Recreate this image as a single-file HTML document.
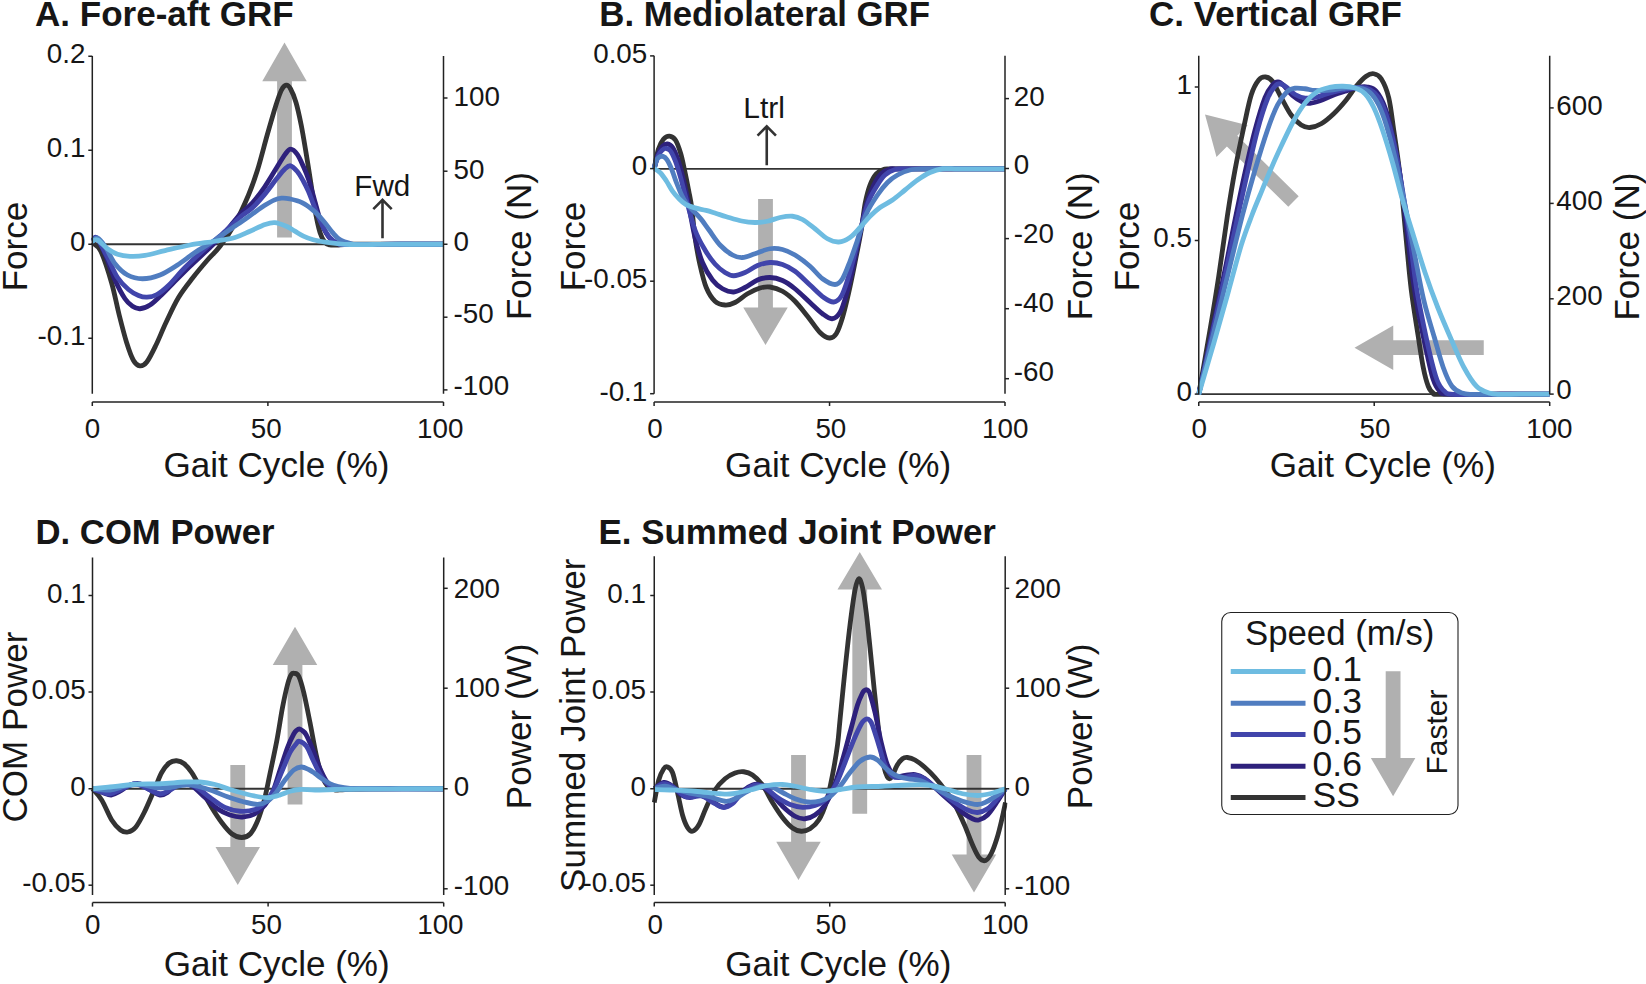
<!DOCTYPE html>
<html lang="en"><head><meta charset="utf-8"><title>Gait figure</title>
<style>
html,body{margin:0;padding:0;background:#fff;}
svg{display:block;}
text{font-family:"Liberation Sans",Arial,Helvetica,sans-serif;fill:#161616;}
</style></head><body>
<svg width="1646" height="984" viewBox="0 0 1646 984">
<rect width="1646" height="984" fill="#fff"/>
<text x="35.1" y="25.9" font-size="35" text-anchor="start" font-weight="bold">A. Fore-aft GRF</text>
<polygon fill="#b0b0b0" points="277.1,237.5 291.9,237.5 291.9,81.25 306.75,81.25 284.5,42.5 262.25,81.25 277.1,81.25"/>
<line x1="92.3" y1="244.25" x2="443.5" y2="244.25" stroke="#333" stroke-width="1.8"/>
<clipPath id="cpA"><rect x="90.1" y="46" width="355.6" height="357.75"/></clipPath>
<g clip-path="url(#cpA)" fill="none" stroke-width="4.8" stroke-linejoin="round" stroke-linecap="butt">
<path d="M92.3 242.5C93.72 243.96 97.6 244.58 100.8 251.25C104 257.92 108.43 271.88 111.5 282.5C114.57 293.12 116.68 305 119.2 315C121.72 325 124.22 334.92 126.6 342.5C128.98 350.08 131.3 356.62 133.5 360.5C135.7 364.38 137.58 365.55 139.8 365.8C142.02 366.05 144.1 365.47 146.8 362C149.5 358.53 152.8 351.58 156 345C159.2 338.42 162.25 330.42 166 322.5C169.75 314.58 174 305 178.5 297.5C183 290 188.17 283.75 193 277.5C197.83 271.25 203 265.21 207.5 260C212 254.79 215.42 252.33 220 246.25C224.58 240.17 230.25 232.04 235 223.5C239.75 214.96 244.75 203.92 248.5 195C252.25 186.08 254.38 180 257.5 170C260.62 160 264.12 145.83 267.2 135C270.28 124.17 273.62 112.5 276 105C278.38 97.5 279.79 93.3 281.5 90C283.21 86.7 284.75 85.41 286.25 85.2C287.75 84.99 288.88 85.87 290.5 88.75C292.12 91.63 294.22 96.46 296 102.5C297.78 108.54 299.53 116.67 301.2 125C302.87 133.33 304.4 142.92 306 152.5C307.6 162.08 309.3 172.92 310.8 182.5C312.3 192.08 313.47 201.67 315 210C316.53 218.33 318.33 227.08 320 232.5C321.67 237.92 323.33 240.42 325 242.5C326.67 244.58 327.92 244.58 330 245C332.08 245.42 334.17 245.12 337.5 245C340.83 244.88 339.58 244.38 350 244.25C360.42 244.12 384.42 244.25 400 244.25C415.58 244.25 436.25 244.25 443.5 244.25" stroke="#333333"/>
<path d="M92.3 241.25C93.08 240.79 94.88 236.42 97 238.5C99.12 240.58 102 246.83 105 253.75C108 260.67 111.67 272.5 115 280C118.33 287.5 122.08 294.38 125 298.75C127.92 303.12 130 304.58 132.5 306.25C135 307.92 137.08 308.96 140 308.75C142.92 308.54 146.67 307.08 150 305C153.33 302.92 156.25 299.79 160 296.25C163.75 292.71 167.5 288.75 172.5 283.75C177.5 278.75 183.75 272.29 190 266.25C196.25 260.21 204.17 253.12 210 247.5C215.83 241.88 220 238.03 225 232.5C230 226.97 235.47 219.18 240 214.3C244.53 209.42 248.13 207.7 252.2 203.2C256.27 198.7 260.33 193.2 264.4 187.3C268.47 181.4 273.15 173.28 276.6 167.8C280.05 162.32 282.77 157.5 285.1 154.4C287.43 151.3 288.57 149.2 290.6 149.2C292.63 149.2 295.17 151.5 297.3 154.4C299.43 157.3 301.57 162.53 303.4 166.6C305.23 170.67 306.87 174.73 308.3 178.8C309.73 182.87 310.82 186.93 312 191C313.18 195.07 314.27 199.13 315.4 203.2C316.53 207.27 317.5 211.33 318.8 215.4C320.1 219.47 321.5 223.95 323.2 227.6C324.9 231.25 326.87 234.77 329 237.3C331.13 239.83 333.33 241.6 336 242.8C338.67 244 334.33 244.26 345 244.5C355.67 244.74 383.58 244.29 400 244.25C416.42 244.21 436.25 244.25 443.5 244.25" stroke="#2e217c"/>
<path d="M92.3 241.25C93.08 240.71 94.47 235.29 97 238C99.53 240.71 104.08 250.92 107.5 257.5C110.92 264.08 114 272.17 117.5 277.5C121 282.83 125 286.5 128.5 289.5C132 292.5 135.42 294.22 138.5 295.5C141.58 296.78 143.92 297.37 147 297.2C150.08 297.03 153.33 296.53 157 294.5C160.67 292.47 164.33 289.5 169 285C173.67 280.5 179 273.54 185 267.5C191 261.46 198.75 254.38 205 248.75C211.25 243.12 216.67 239.01 222.5 233.75C228.33 228.49 235.05 221.49 240 217.2C244.95 212.91 248.13 211.77 252.2 208C256.27 204.23 260.33 199.47 264.4 194.6C268.47 189.73 273.15 183.1 276.6 178.8C280.05 174.5 282.77 170.97 285.1 168.8C287.43 166.63 288.57 165.35 290.6 165.8C292.63 166.25 295.17 168.93 297.3 171.5C299.43 174.07 301.57 177.95 303.4 181.2C305.23 184.45 306.7 187.33 308.3 191C309.9 194.67 311.42 199.13 313 203.2C314.58 207.27 316.07 211.33 317.8 215.4C319.53 219.47 321.43 223.95 323.4 227.6C325.37 231.25 327.33 234.77 329.6 237.3C331.87 239.83 334.27 241.6 337 242.8C339.73 244 335.5 244.26 346 244.5C356.5 244.74 383.75 244.29 400 244.25C416.25 244.21 436.25 244.25 443.5 244.25" stroke="#4145ab"/>
<path d="M92.3 241.25C93.17 240.71 95.38 237.17 97.5 238C99.62 238.83 102.08 241.96 105 246.25C107.92 250.54 111.25 258.96 115 263.75C118.75 268.54 122.92 272.5 127.5 275C132.08 277.5 137.08 278.75 142.5 278.75C147.92 278.75 154.17 277.29 160 275C165.83 272.71 171.67 268.75 177.5 265C183.33 261.25 188.75 256.67 195 252.5C201.25 248.33 208.33 244.42 215 240C221.67 235.58 230.83 228.88 235 226C239.17 223.12 237.13 224.68 240 222.7C242.87 220.72 248.13 216.95 252.2 214.1C256.27 211.25 260.75 207.93 264.4 205.6C268.05 203.27 271.25 201.33 274.1 200.1C276.95 198.87 278.88 198.4 281.5 198.2C284.12 198 286.38 198.17 289.8 198.9C293.22 199.63 297.95 200.57 302 202.6C306.05 204.63 310.45 207.95 314.1 211.1C317.75 214.25 320.85 217.95 323.9 221.5C326.95 225.05 329.75 229.38 332.4 232.4C335.05 235.42 336.75 237.73 339.8 239.6C342.85 241.47 347.33 242.78 350.7 243.6C354.07 244.42 351.78 244.39 360 244.5C368.22 244.61 386.08 244.29 400 244.25C413.92 244.21 436.25 244.25 443.5 244.25" stroke="#507dc0"/>
<path d="M92.3 241.25C93.17 241.04 94.97 238.75 97.5 240C100.03 241.25 104.17 246.38 107.5 248.75C110.83 251.12 113.75 252.94 117.5 254.2C121.25 255.46 125.42 256.1 130 256.3C134.58 256.5 139.17 256.35 145 255.4C150.83 254.45 157.5 252.33 165 250.6C172.5 248.87 181.67 246.56 190 245C198.33 243.44 207.5 242.5 215 241.25C222.5 240 229.17 239.17 235 237.5C240.83 235.83 245 233.42 250 231.25C255 229.08 260.87 225.94 265 224.5C269.13 223.06 271.25 222.3 274.8 222.6C278.35 222.9 282.95 224.87 286.3 226.3C289.65 227.73 292.05 229.57 294.9 231.2C297.75 232.83 300.35 234.67 303.4 236.1C306.45 237.53 309.53 238.78 313.2 239.8C316.87 240.82 321.33 241.55 325.4 242.2C329.47 242.85 333.53 243.32 337.6 243.7C341.67 244.08 343.98 244.37 349.8 244.5C355.62 244.63 364.13 244.54 372.5 244.5C380.87 244.46 388.17 244.29 400 244.25C411.83 244.21 436.25 244.25 443.5 244.25" stroke="#6ebce1"/>
</g>
<line x1="92.3" y1="56" x2="92.3" y2="393.75" stroke="#222222" stroke-width="1.5"/>
<line x1="88.3" y1="56.25" x2="92.3" y2="56.25" stroke="#222222" stroke-width="1.5"/>
<text x="85.5" y="63.05" font-size="27.8" text-anchor="end">0.2</text>
<line x1="88.3" y1="150.25" x2="92.3" y2="150.25" stroke="#222222" stroke-width="1.5"/>
<text x="85.5" y="157.05" font-size="27.8" text-anchor="end">0.1</text>
<line x1="88.3" y1="244.25" x2="92.3" y2="244.25" stroke="#222222" stroke-width="1.5"/>
<text x="85.5" y="251.05" font-size="27.8" text-anchor="end">0</text>
<line x1="88.3" y1="338.25" x2="92.3" y2="338.25" stroke="#222222" stroke-width="1.5"/>
<text x="85.5" y="345.05" font-size="27.8" text-anchor="end">-0.1</text>
<line x1="443.5" y1="56" x2="443.5" y2="393.75" stroke="#222222" stroke-width="1.5"/>
<line x1="443.5" y1="98" x2="447.5" y2="98" stroke="#222222" stroke-width="1.5"/>
<text x="453.5" y="106.4" font-size="27.8" text-anchor="start">100</text>
<line x1="443.5" y1="171.2" x2="447.5" y2="171.2" stroke="#222222" stroke-width="1.5"/>
<text x="453.5" y="178.6" font-size="27.8" text-anchor="start">50</text>
<line x1="443.5" y1="244.25" x2="447.5" y2="244.25" stroke="#222222" stroke-width="1.5"/>
<text x="453.5" y="250.55" font-size="27.8" text-anchor="start">0</text>
<line x1="443.5" y1="317.2" x2="447.5" y2="317.2" stroke="#222222" stroke-width="1.5"/>
<text x="453.5" y="322.5" font-size="27.8" text-anchor="start">-50</text>
<line x1="443.5" y1="389.9" x2="447.5" y2="389.9" stroke="#222222" stroke-width="1.5"/>
<text x="453.5" y="394.6" font-size="27.8" text-anchor="start">-100</text>
<line x1="92.3" y1="402" x2="443.5" y2="402" stroke="#222222" stroke-width="1.5"/>
<line x1="92.3" y1="402" x2="92.3" y2="406" stroke="#222222" stroke-width="1.5"/>
<text x="92.6" y="438.4" font-size="27.8" text-anchor="middle">0</text>
<line x1="267.9" y1="402" x2="267.9" y2="406" stroke="#222222" stroke-width="1.5"/>
<text x="266.2" y="438.4" font-size="27.8" text-anchor="middle">50</text>
<line x1="443.5" y1="402" x2="443.5" y2="406" stroke="#222222" stroke-width="1.5"/>
<text x="440.2" y="438.4" font-size="27.8" text-anchor="middle">100</text>
<text x="276.5" y="477.3" font-size="35.1" text-anchor="middle">Gait Cycle (%)</text>
<text x="26.7" y="246.5" font-size="35.1" text-anchor="middle" transform="rotate(-90 26.7 246.5)">Force</text>
<text x="531" y="246" font-size="35.1" text-anchor="middle" transform="rotate(-90 531 246)">Force (N)</text>
<text x="382.3" y="195.6" font-size="29.6" text-anchor="middle">Fwd</text>
<path d="M382.5 238.2L382.5 200.85M373.3 209.05L382.5 199.85L391.7 209.05" fill="none" stroke="#333" stroke-width="2.6" stroke-linejoin="miter"/>
<text x="599.3" y="25.9" font-size="34.8" text-anchor="start" font-weight="bold">B. Mediolateral GRF</text>
<polygon fill="#b0b0b0" points="758.1,199 772.9,199 772.9,307.5 787.75,307.5 765.5,345 743.25,307.5 758.1,307.5"/>
<line x1="654.1" y1="168.9" x2="1005" y2="168.9" stroke="#333" stroke-width="1.8"/>
<clipPath id="cpB"><rect x="651.9" y="45.75" width="355.3" height="358"/></clipPath>
<g clip-path="url(#cpB)" fill="none" stroke-width="4.8" stroke-linejoin="round" stroke-linecap="butt">
<path d="M654.2 168.5C654.88 165.33 656.77 154.37 658.3 149.5C659.83 144.63 661.53 141.53 663.4 139.3C665.27 137.07 667.47 135.93 669.5 136.1C671.53 136.27 673.73 137.4 675.6 140.3C677.47 143.2 679.18 148.42 680.7 153.5C682.22 158.58 683.35 164.53 684.7 170.8C686.05 177.07 687.62 184.9 688.8 191.1C689.98 197.3 690.77 200.27 691.8 208C692.83 215.73 693.63 228 695 237.5C696.37 247 698.12 256.67 700 265C701.88 273.33 703.75 281.46 706.25 287.5C708.75 293.54 711.88 298.33 715 301.25C718.12 304.17 721.67 304.79 725 305C728.33 305.21 731.25 304.38 735 302.5C738.75 300.62 743.33 296.17 747.5 293.75C751.67 291.33 756.25 289.12 760 288C763.75 286.88 766.25 286.46 770 287C773.75 287.54 778.33 288.88 782.5 291.25C786.67 293.62 790.83 297.08 795 301.25C799.17 305.42 803.33 311.04 807.5 316.25C811.67 321.46 816.33 328.88 820 332.5C823.67 336.12 826.79 337.79 829.5 338C832.21 338.21 834.08 337.17 836.25 333.75C838.42 330.33 840.42 324.38 842.5 317.5C844.58 310.62 846.67 301.67 848.75 292.5C850.83 283.33 852.92 272.92 855 262.5C857.08 252.08 859.55 239.92 861.25 230C862.95 220.08 863.74 210.5 865.2 203C866.66 195.5 868.15 189.88 870 185C871.85 180.12 873.97 176.37 876.3 173.75C878.63 171.13 880.88 170.11 884 169.3C887.12 168.49 884 168.97 895 168.9C906 168.83 931.67 168.9 950 168.9C968.33 168.9 995.83 168.9 1005 168.9" stroke="#333333"/>
<path d="M654.2 168.5C654.88 166 656.85 157.27 658.3 153.5C659.75 149.73 661.38 147.5 662.9 145.9C664.42 144.3 665.8 143.65 667.4 143.9C669 144.15 670.8 144.95 672.5 147.4C674.2 149.85 675.9 153.68 677.6 158.6C679.3 163.52 681 169.95 682.7 176.9C684.4 183.85 685.75 190.2 687.8 200.3C689.85 210.4 692.55 227.13 695 237.5C697.45 247.87 699.58 255.42 702.5 262.5C705.42 269.58 709.17 275.62 712.5 280C715.83 284.38 718.96 286.75 722.5 288.75C726.04 290.75 730 292.21 733.75 292C737.5 291.79 741.04 289.5 745 287.5C748.96 285.5 753.33 281.67 757.5 280C761.67 278.33 765.83 277.42 770 277.5C774.17 277.58 778.33 278.62 782.5 280.5C786.67 282.38 790.42 285.08 795 288.75C799.58 292.42 805.42 298.33 810 302.5C814.58 306.67 818.83 311.04 822.5 313.75C826.17 316.46 829.08 318.96 832 318.75C834.92 318.54 837.62 316.46 840 312.5C842.38 308.54 844.17 302.08 846.25 295C848.33 287.92 850.42 279.17 852.5 270C854.58 260.83 856.46 250.83 858.75 240C861.04 229.17 863.75 214.17 866.25 205C868.75 195.83 871.25 190.21 873.75 185C876.25 179.79 878.54 176.42 881.25 173.75C883.96 171.08 886.88 169.81 890 169C893.12 168.19 890 168.92 900 168.9C910 168.88 932.5 168.9 950 168.9C967.5 168.9 995.83 168.9 1005 168.9" stroke="#2e217c"/>
<path d="M654.2 168.5C654.88 166.35 656.93 158.68 658.3 155.6C659.67 152.52 661.05 151.18 662.4 150C663.75 148.82 665.05 148.33 666.4 148.5C667.75 148.67 668.97 148.8 670.5 151C672.03 153.2 673.9 157.22 675.6 161.7C677.3 166.18 679.02 171.98 680.7 177.9C682.38 183.82 683.32 188.52 685.7 197.2C688.08 205.88 691.78 221.2 695 230C698.22 238.8 701.67 244.33 705 250C708.33 255.67 711.67 260.25 715 264C718.33 267.75 721.88 270.54 725 272.5C728.12 274.46 730.42 275.75 733.75 275.75C737.08 275.75 741.04 274.21 745 272.5C748.96 270.79 753.33 267.17 757.5 265.5C761.67 263.83 765.83 262.67 770 262.5C774.17 262.33 778.33 263.04 782.5 264.5C786.67 265.96 790.42 267.83 795 271.25C799.58 274.67 805.21 280.62 810 285C814.79 289.38 819.79 294.67 823.75 297.5C827.71 300.33 830.83 302.21 833.75 302C836.67 301.79 838.96 299.92 841.25 296.25C843.54 292.58 845.42 286.46 847.5 280C849.58 273.54 851.67 265.42 853.75 257.5C855.83 249.58 857.62 241.58 860 232.5C862.38 223.42 865.08 210.92 868 203C870.92 195.08 874.67 189.67 877.5 185C880.33 180.33 882.08 177.58 885 175C887.92 172.42 891.25 170.52 895 169.5C898.75 168.48 898.33 169 907.5 168.9C916.67 168.8 933.75 168.9 950 168.9C966.25 168.9 995.83 168.9 1005 168.9" stroke="#4145ab"/>
<path d="M654.2 168.5C654.55 167.2 655.45 162.6 656.3 160.7C657.15 158.8 658.2 157.82 659.3 157.1C660.4 156.38 661.63 155.98 662.9 156.4C664.17 156.82 665.47 157.53 666.9 159.6C668.33 161.67 669.88 164.9 671.5 168.8C673.12 172.7 674.9 178.6 676.6 183C678.3 187.4 680.18 191.98 681.7 195.2C683.22 198.42 684.18 200.1 685.7 202.3C687.22 204.5 688.93 206.37 690.8 208.4C692.67 210.43 695.2 212.73 696.9 214.5C698.6 216.27 698.98 216.42 701 219C703.02 221.58 705.83 225.67 709 230C712.17 234.33 716.08 240.83 720 245C723.92 249.17 728.75 252.92 732.5 255C736.25 257.08 738.75 257.71 742.5 257.5C746.25 257.29 750.42 255.21 755 253.75C759.58 252.29 765.42 249.46 770 248.75C774.58 248.04 778.33 248.46 782.5 249.5C786.67 250.54 790.42 252.21 795 255C799.58 257.79 805.42 262.29 810 266.25C814.58 270.21 818.33 275.71 822.5 278.75C826.67 281.79 831.67 284.5 835 284.5C838.33 284.5 840 282.62 842.5 278.75C845 274.88 847.5 267.71 850 261.25C852.5 254.79 854.79 247.88 857.5 240C860.21 232.12 862.92 221.5 866.25 214C869.58 206.5 873.96 200.25 877.5 195C881.04 189.75 884.17 185.83 887.5 182.5C890.83 179.17 893.75 177.08 897.5 175C901.25 172.92 905.42 171.02 910 170C914.58 168.98 916.67 169.08 925 168.9C933.33 168.72 946.67 168.9 960 168.9C973.33 168.9 997.5 168.9 1005 168.9" stroke="#507dc0"/>
<path d="M654.2 168.5C655.22 169.22 658.27 170.72 660.3 172.8C662.33 174.88 664.37 177.95 666.4 181C668.43 184.05 670.47 188.22 672.5 191.1C674.53 193.98 676.4 196.08 678.6 198.3C680.8 200.52 682.98 202.8 685.7 204.4C688.42 206 691.5 206.9 694.9 207.9C698.3 208.9 702.55 209.47 706.1 210.4C709.65 211.33 712.82 212.45 716.2 213.5C719.58 214.55 722.17 215.45 726.4 216.7C730.63 217.95 736.83 220.03 741.6 221C746.37 221.97 750.68 222.46 755 222.5C759.32 222.54 763.33 222.08 767.5 221.25C771.67 220.42 775.83 218.33 780 217.5C784.17 216.67 788.75 215.92 792.5 216.25C796.25 216.58 798.75 217.42 802.5 219.5C806.25 221.58 810.83 225.54 815 228.75C819.17 231.96 823.54 236.54 827.5 238.75C831.46 240.96 835 242.21 838.75 242C842.5 241.79 846.46 239.92 850 237.5C853.54 235.08 856.67 231.04 860 227.5C863.33 223.96 866.67 219.58 870 216.25C873.33 212.92 876.25 210.21 880 207.5C883.75 204.79 888.33 202.92 892.5 200C896.67 197.08 900.83 193.33 905 190C909.17 186.67 913.33 182.92 917.5 180C921.67 177.08 925.83 174.38 930 172.5C934.17 170.62 937.92 169.35 942.5 168.75C947.08 168.15 951.25 168.88 957.5 168.9C963.75 168.93 972.08 168.9 980 168.9C987.92 168.9 1000.83 168.9 1005 168.9" stroke="#6ebce1"/>
</g>
<line x1="654.1" y1="55.75" x2="654.1" y2="393.75" stroke="#222222" stroke-width="1.5"/>
<line x1="650.1" y1="55.9" x2="654.1" y2="55.9" stroke="#222222" stroke-width="1.5"/>
<text x="647.3" y="62.7" font-size="27.8" text-anchor="end">0.05</text>
<line x1="650.1" y1="168.6" x2="654.1" y2="168.6" stroke="#222222" stroke-width="1.5"/>
<text x="647.3" y="175.4" font-size="27.8" text-anchor="end">0</text>
<line x1="650.1" y1="281.2" x2="654.1" y2="281.2" stroke="#222222" stroke-width="1.5"/>
<text x="647.3" y="288" font-size="27.8" text-anchor="end">-0.05</text>
<line x1="650.1" y1="393.7" x2="654.1" y2="393.7" stroke="#222222" stroke-width="1.5"/>
<text x="647.3" y="400.5" font-size="27.8" text-anchor="end">-0.1</text>
<line x1="1005" y1="55.75" x2="1005" y2="393.75" stroke="#222222" stroke-width="1.5"/>
<line x1="1005" y1="98.6" x2="1009" y2="98.6" stroke="#222222" stroke-width="1.5"/>
<text x="1013.8" y="105.7" font-size="27.8" text-anchor="start">20</text>
<line x1="1005" y1="168.5" x2="1009" y2="168.5" stroke="#222222" stroke-width="1.5"/>
<text x="1013.8" y="174.4" font-size="27.8" text-anchor="start">0</text>
<line x1="1005" y1="238.6" x2="1009" y2="238.6" stroke="#222222" stroke-width="1.5"/>
<text x="1013.8" y="243.2" font-size="27.8" text-anchor="start">-20</text>
<line x1="1005" y1="308.7" x2="1009" y2="308.7" stroke="#222222" stroke-width="1.5"/>
<text x="1013.8" y="312.3" font-size="27.8" text-anchor="start">-40</text>
<line x1="1005" y1="378.7" x2="1009" y2="378.7" stroke="#222222" stroke-width="1.5"/>
<text x="1013.8" y="381.4" font-size="27.8" text-anchor="start">-60</text>
<line x1="654.1" y1="402" x2="1005" y2="402" stroke="#222222" stroke-width="1.5"/>
<line x1="654.1" y1="402" x2="654.1" y2="406" stroke="#222222" stroke-width="1.5"/>
<text x="655.1" y="438.4" font-size="27.8" text-anchor="middle">0</text>
<line x1="829.55" y1="402" x2="829.55" y2="406" stroke="#222222" stroke-width="1.5"/>
<text x="830.85" y="438.4" font-size="27.8" text-anchor="middle">50</text>
<line x1="1005" y1="402" x2="1005" y2="406" stroke="#222222" stroke-width="1.5"/>
<text x="1005.2" y="438.4" font-size="27.8" text-anchor="middle">100</text>
<text x="838.15" y="477.3" font-size="35.1" text-anchor="middle">Gait Cycle (%)</text>
<text x="585" y="246.5" font-size="35.1" text-anchor="middle" transform="rotate(-90 585 246.5)">Force</text>
<text x="1091.8" y="246.3" font-size="35.1" text-anchor="middle" transform="rotate(-90 1091.8 246.3)">Force (N)</text>
<text x="764.2" y="117.6" font-size="30" text-anchor="middle">Ltrl</text>
<path d="M766.75 165.2L766.75 127.45M757.55 135.65L766.75 126.45L775.95 135.65" fill="none" stroke="#333" stroke-width="2.6" stroke-linejoin="miter"/>
<text x="1149.1" y="25.9" font-size="35" text-anchor="start" font-weight="bold">C. Vertical GRF</text>
<polygon fill="#b0b0b0" points="1205,114.5 1216.5,157.01 1226.91,146.42 1288.31,206.78 1298.69,196.22 1237.29,135.86 1247.7,125.27"/>
<polygon fill="#b0b0b0" points="1483.75,340.3 1483.75,355.1 1393.25,355.1 1393.25,369.95 1354.5,347.7 1393.25,325.45 1393.25,340.3"/>
<line x1="1198.75" y1="394.2" x2="1549.7" y2="394.2" stroke="#333" stroke-width="1.8"/>
<clipPath id="cpC"><rect x="1196.55" y="45.75" width="355.35" height="358.45"/></clipPath>
<g clip-path="url(#cpC)" fill="none" stroke-width="4.8" stroke-linejoin="round" stroke-linecap="butt">
<path d="M1198.75 394.2C1200.62 383.5 1206.67 349.7 1210 330C1213.33 310.3 1215.83 295.17 1218.75 276C1221.67 256.83 1224.79 232.67 1227.5 215C1230.21 197.33 1232.3 184.58 1235 170C1237.7 155.42 1241 140 1243.7 127.5C1246.4 115 1248.7 102.92 1251.2 95C1253.7 87.08 1256.28 83 1258.7 80C1261.12 77 1263.41 76.79 1265.7 77C1267.99 77.21 1269.87 77.83 1272.45 81.25C1275.03 84.67 1278.08 91.88 1281.2 97.5C1284.33 103.12 1287.87 110.42 1291.2 115C1294.53 119.58 1298.08 122.92 1301.2 125C1304.33 127.08 1306.62 127.71 1309.95 127.5C1313.28 127.29 1317.24 126.04 1321.2 123.75C1325.16 121.46 1329.53 117.71 1333.7 113.75C1337.87 109.79 1342.45 104.58 1346.2 100C1349.95 95.42 1352.87 90.21 1356.2 86.25C1359.53 82.29 1363.28 78.33 1366.2 76.25C1369.12 74.17 1371.2 73.33 1373.7 73.75C1376.2 74.17 1378.7 74.79 1381.2 78.75C1383.7 82.71 1386.61 88.96 1388.7 97.5C1390.79 106.04 1391.87 117.08 1393.75 130C1395.63 142.92 1397.92 156.67 1400 175C1402.08 193.33 1404.38 220.83 1406.25 240C1408.12 259.17 1409.29 274.17 1411.25 290C1413.21 305.83 1416 322.08 1418 335C1420 347.92 1421.54 358.96 1423.25 367.5C1424.96 376.04 1426.58 382 1428.25 386.25C1429.92 390.5 1431.17 391.64 1433.25 393C1435.33 394.36 1429.62 394.2 1440.75 394.4C1451.88 394.6 1481.88 394.23 1500 394.2C1518.12 394.17 1541.25 394.2 1549.5 394.2" stroke="#333333"/>
<path d="M1198.75 394.2C1202.92 374.5 1217.71 305.03 1223.75 276C1229.79 246.97 1231.46 237.25 1235 220C1238.54 202.75 1241.67 187.5 1245 172.5C1248.33 157.5 1251.67 142.5 1255 130C1258.33 117.5 1262.08 105 1265 97.5C1267.92 90 1270.33 87.58 1272.5 85C1274.67 82.42 1276.12 81.92 1278 82C1279.88 82.08 1281.33 83.25 1283.75 85.5C1286.17 87.75 1289.38 92.75 1292.5 95.5C1295.62 98.25 1299.58 100.71 1302.5 102C1305.42 103.29 1307.08 103.46 1310 103.25C1312.92 103.04 1316.25 102.04 1320 100.75C1323.75 99.46 1328.33 97.08 1332.5 95.5C1336.67 93.92 1340.83 92.58 1345 91.25C1349.17 89.92 1353.75 88.21 1357.5 87.5C1361.25 86.79 1364.38 86.38 1367.5 87C1370.62 87.62 1373.33 87.83 1376.25 91.25C1379.17 94.67 1382.29 100.21 1385 107.5C1387.71 114.79 1390 123.75 1392.5 135C1395 146.25 1397.5 158.33 1400 175C1402.5 191.67 1405.33 217.5 1407.5 235C1409.67 252.5 1411.18 267.08 1413 280C1414.82 292.92 1416.15 300.42 1418.44 312.5C1420.73 324.58 1424.32 341.46 1426.75 352.5C1429.18 363.54 1430.92 372.42 1433 378.75C1435.08 385.08 1436.75 387.93 1439.25 390.5C1441.75 393.07 1437.88 393.58 1448 394.2C1458.12 394.82 1483.08 394.2 1500 394.2C1516.92 394.2 1541.25 394.2 1549.5 394.2" stroke="#2e217c"/>
<path d="M1198.75 394.2C1203.12 374.5 1218.54 305.45 1225 276C1231.46 246.55 1233.75 234.75 1237.5 217.5C1241.25 200.25 1244.17 187.08 1247.5 172.5C1250.83 157.92 1254.17 142.29 1257.5 130C1260.83 117.71 1264.58 106.04 1267.5 98.75C1270.42 91.46 1272.92 88.75 1275 86.25C1277.08 83.75 1278.12 83.62 1280 83.75C1281.88 83.88 1283.75 85.21 1286.25 87C1288.75 88.79 1291.88 92.67 1295 94.5C1298.12 96.33 1301.67 97.5 1305 98C1308.33 98.5 1311.25 98.21 1315 97.5C1318.75 96.79 1322.5 95.08 1327.5 93.75C1332.5 92.42 1339.58 90.54 1345 89.5C1350.42 88.46 1355.83 87.5 1360 87.5C1364.17 87.5 1366.88 87.83 1370 89.5C1373.12 91.17 1376.04 93.25 1378.75 97.5C1381.46 101.75 1383.75 107.5 1386.25 115C1388.75 122.5 1391.25 131.25 1393.75 142.5C1396.25 153.75 1398.54 166.25 1401.25 182.5C1403.96 198.75 1407.54 222.92 1410 240C1412.46 257.08 1414.25 273.33 1416 285C1417.75 296.67 1418.25 298.75 1420.5 310C1422.75 321.25 1426.75 340.83 1429.5 352.5C1432.25 364.17 1434.5 373.54 1437 380C1439.5 386.46 1441.58 388.85 1444.5 391.25C1447.42 393.65 1445.25 393.91 1454.5 394.4C1463.75 394.89 1484.17 394.23 1500 394.2C1515.83 394.17 1541.25 394.2 1549.5 394.2" stroke="#4145ab"/>
<path d="M1198.75 394.2C1203.54 374.5 1220.21 305.87 1227.5 276C1234.79 246.13 1237.92 232.67 1242.5 215C1247.08 197.33 1250.83 184.17 1255 170C1259.17 155.83 1263.75 140.83 1267.5 130C1271.25 119.17 1274.17 111.46 1277.5 105C1280.83 98.54 1284.58 94.04 1287.5 91.25C1290.42 88.46 1292.08 88.67 1295 88.25C1297.92 87.83 1301.67 88.38 1305 88.75C1308.33 89.12 1310.83 90.29 1315 90.5C1319.17 90.71 1325 90.42 1330 90C1335 89.58 1340 88.33 1345 88C1350 87.67 1355.83 87.25 1360 88C1364.17 88.75 1366.88 89.67 1370 92.5C1373.12 95.33 1376.04 99.58 1378.75 105C1381.46 110.42 1383.54 116.25 1386.25 125C1388.96 133.75 1391.88 144.17 1395 157.5C1398.12 170.83 1401.88 189.58 1405 205C1408.12 220.42 1410.62 234.17 1413.75 250C1416.88 265.83 1420.31 285.42 1423.75 300C1427.19 314.58 1431.13 326.25 1434.38 337.5C1437.63 348.75 1440.31 359.38 1443.25 367.5C1446.19 375.62 1448.88 382 1452 386.25C1455.12 390.5 1458.67 391.64 1462 393C1465.33 394.36 1465.67 394.2 1472 394.4C1478.33 394.6 1487.08 394.23 1500 394.2C1512.92 394.17 1541.25 394.2 1549.5 394.2" stroke="#507dc0"/>
<path d="M1198.75 394.2C1201.29 385.58 1209.12 359.37 1214 342.5C1218.88 325.63 1223.45 309.25 1228 293C1232.55 276.75 1237.3 258 1241.3 245C1245.3 232 1248.8 223.5 1252 215C1255.2 206.5 1257.67 200.92 1260.5 194C1263.33 187.08 1266.08 180.33 1269 173.5C1271.92 166.67 1274 161.58 1278 153C1282 144.42 1288.42 130.42 1293 122C1297.58 113.58 1301.42 107.58 1305.5 102.5C1309.58 97.42 1313.5 94.02 1317.5 91.5C1321.5 88.98 1325.25 88.28 1329.5 87.4C1333.75 86.53 1338.75 86.15 1343 86.25C1347.25 86.35 1351.33 86.75 1355 88C1358.67 89.25 1361.88 90.5 1365 93.75C1368.12 97 1370.83 101.46 1373.75 107.5C1376.67 113.54 1379.38 120.83 1382.5 130C1385.62 139.17 1389.17 150.83 1392.5 162.5C1395.83 174.17 1399.17 188.33 1402.5 200C1405.83 211.67 1408.75 220.42 1412.5 232.5C1416.25 244.58 1420.79 260 1425 272.5C1429.21 285 1433.36 296.25 1437.78 307.5C1442.2 318.75 1447.13 330 1451.5 340C1455.87 350 1459.83 359.79 1464 367.5C1468.17 375.21 1472.33 382 1476.5 386.25C1480.67 390.5 1485.08 391.64 1489 393C1492.92 394.36 1494.83 394.2 1500 394.4C1505.17 394.6 1511.75 394.23 1520 394.2C1528.25 394.17 1544.58 394.2 1549.5 394.2" stroke="#6ebce1"/>
</g>
<line x1="1198.75" y1="55.75" x2="1198.75" y2="394.2" stroke="#222222" stroke-width="1.5"/>
<line x1="1194.75" y1="87" x2="1198.75" y2="87" stroke="#222222" stroke-width="1.5"/>
<text x="1191.95" y="93.8" font-size="27.8" text-anchor="end">1</text>
<line x1="1194.75" y1="240.5" x2="1198.75" y2="240.5" stroke="#222222" stroke-width="1.5"/>
<text x="1191.95" y="247.3" font-size="27.8" text-anchor="end">0.5</text>
<line x1="1194.75" y1="394.1" x2="1198.75" y2="394.1" stroke="#222222" stroke-width="1.5"/>
<text x="1191.95" y="400.9" font-size="27.8" text-anchor="end">0</text>
<line x1="1549.7" y1="55.75" x2="1549.7" y2="394.2" stroke="#222222" stroke-width="1.5"/>
<line x1="1549.7" y1="107.9" x2="1553.7" y2="107.9" stroke="#222222" stroke-width="1.5"/>
<text x="1556.3" y="115" font-size="27.8" text-anchor="start">600</text>
<line x1="1549.7" y1="203.4" x2="1553.7" y2="203.4" stroke="#222222" stroke-width="1.5"/>
<text x="1556.3" y="209.9" font-size="27.8" text-anchor="start">400</text>
<line x1="1549.7" y1="298.8" x2="1553.7" y2="298.8" stroke="#222222" stroke-width="1.5"/>
<text x="1556.3" y="304.6" font-size="27.8" text-anchor="start">200</text>
<line x1="1549.7" y1="394.1" x2="1553.7" y2="394.1" stroke="#222222" stroke-width="1.5"/>
<text x="1556.3" y="399.3" font-size="27.8" text-anchor="start">0</text>
<line x1="1198.75" y1="402" x2="1549.7" y2="402" stroke="#222222" stroke-width="1.5"/>
<line x1="1198.75" y1="402" x2="1198.75" y2="406" stroke="#222222" stroke-width="1.5"/>
<text x="1199.25" y="438.4" font-size="27.8" text-anchor="middle">0</text>
<line x1="1374.22" y1="402" x2="1374.22" y2="406" stroke="#222222" stroke-width="1.5"/>
<text x="1375.02" y="438.4" font-size="27.8" text-anchor="middle">50</text>
<line x1="1549.7" y1="402" x2="1549.7" y2="406" stroke="#222222" stroke-width="1.5"/>
<text x="1549.4" y="438.4" font-size="27.8" text-anchor="middle">100</text>
<text x="1382.82" y="477.3" font-size="35.1" text-anchor="middle">Gait Cycle (%)</text>
<text x="1139.2" y="246.5" font-size="35.1" text-anchor="middle" transform="rotate(-90 1139.2 246.5)">Force</text>
<text x="1638.5" y="246.5" font-size="35.1" text-anchor="middle" transform="rotate(-90 1638.5 246.5)">Force (N)</text>
<text x="35.5" y="543.7" font-size="34.7" text-anchor="start" font-weight="bold">D. COM Power</text>
<polygon fill="#b0b0b0" points="287.6,804.5 302.4,804.5 302.4,665 317.25,665 295,626.75 272.75,665 287.6,665"/>
<polygon fill="#b0b0b0" points="230.35,765 245.15,765 245.15,847 260,847 237.75,885 215.5,847 230.35,847"/>
<line x1="92.5" y1="788.75" x2="443.7" y2="788.75" stroke="#333" stroke-width="1.8"/>
<clipPath id="cpD"><rect x="90.3" y="547.5" width="355.6" height="357.5"/></clipPath>
<g clip-path="url(#cpD)" fill="none" stroke-width="4.8" stroke-linejoin="round" stroke-linecap="butt">
<path d="M92.5 788.75C94.03 790.62 98.5 794.79 101.7 800C104.9 805.21 108.58 815 111.7 820C114.83 825 117.74 828 120.45 830C123.16 832 125.45 832.42 127.95 832C130.45 831.58 132.74 830.75 135.45 827.5C138.16 824.25 141.07 818.75 144.2 812.5C147.32 806.25 151.28 796.67 154.2 790C157.12 783.33 159.2 777 161.7 772.5C164.2 768 166.7 764.96 169.2 763C171.7 761.04 174.2 760.62 176.7 760.75C179.2 760.88 181.7 761.79 184.2 763.75C186.7 765.71 188.78 768.12 191.7 772.5C194.62 776.88 198.37 784.17 201.7 790C205.03 795.83 208.37 802.08 211.7 807.5C215.03 812.92 218.37 818.12 221.7 822.5C225.03 826.88 228.37 831.25 231.7 833.75C235.03 836.25 238.57 837.5 241.7 837.5C244.82 837.5 247.74 836.67 250.45 833.75C253.16 830.83 255.64 825.62 257.95 820C260.26 814.38 262.34 807.5 264.3 800C266.26 792.5 267.59 785 269.7 775C271.81 765 274.82 751.25 276.95 740C279.08 728.75 280.7 716.88 282.5 707.5C284.3 698.12 286.29 689.25 287.75 683.75C289.21 678.25 290.12 676.23 291.25 674.5C292.38 672.77 293.25 673.11 294.5 673.4C295.75 673.69 297.21 673.07 298.75 676.25C300.29 679.43 301.88 684.79 303.75 692.5C305.62 700.21 307.92 712.08 310 722.5C312.08 732.92 314.17 745.83 316.25 755C318.33 764.17 320.42 772.08 322.5 777.5C324.58 782.92 326.67 785.42 328.75 787.5C330.83 789.58 332.29 789.67 335 790C337.71 790.33 339.17 789.71 345 789.5C350.83 789.29 353.58 788.88 370 788.75C386.42 788.62 431.25 788.75 443.5 788.75" stroke="#333333"/>
<path d="M92.5 788.75C94.17 789.38 99.38 791.46 102.5 792.5C105.62 793.54 108.33 795.21 111.25 795C114.17 794.79 116.88 792.92 120 791.25C123.12 789.58 126.67 786.25 130 785C133.33 783.75 136.67 782.92 140 783.75C143.33 784.58 146.67 788.12 150 790C153.33 791.88 157.08 794.58 160 795C162.92 795.42 165 794.17 167.5 792.5C170 790.83 172.5 786.67 175 785C177.5 783.33 179.58 782.29 182.5 782.5C185.42 782.71 188.75 783.75 192.5 786.25C196.25 788.75 200.83 793.75 205 797.5C209.17 801.25 213.33 805.83 217.5 808.75C221.67 811.67 225.83 813.62 230 815C234.17 816.38 238.33 817.21 242.5 817C246.67 816.79 251.25 815.75 255 813.75C258.75 811.75 262.08 808.54 265 805C267.92 801.46 270 798.33 272.5 792.5C275 786.67 277.5 777.5 280 770C282.5 762.5 285.21 753.5 287.5 747.5C289.79 741.5 292.17 736.92 293.75 734C295.33 731.08 296.08 730.83 297 730C297.92 729.17 298.5 729 299.25 729C300 729 300.38 729.08 301.5 730C302.62 730.92 304.08 731.17 306 734.5C307.92 737.83 310.75 744.5 313 750C315.25 755.5 317.17 762.17 319.5 767.5C321.83 772.83 324.5 778.7 327 782C329.5 785.3 331.67 786.13 334.5 787.3C337.33 788.47 338.08 788.76 344 789C349.92 789.24 353.42 788.79 370 788.75C386.58 788.71 431.25 788.75 443.5 788.75" stroke="#2e217c"/>
<path d="M92.5 788.75C94.08 789.29 99.08 791.17 102 792C104.92 792.83 107 794.08 110 793.75C113 793.42 115.83 791.67 120 790C124.17 788.33 130.42 783.96 135 783.75C139.58 783.54 143.33 787.08 147.5 788.75C151.67 790.42 156.25 793.54 160 793.75C163.75 793.96 166.25 791.67 170 790C173.75 788.33 178.33 784.38 182.5 783.75C186.67 783.12 190.42 783.96 195 786.25C199.58 788.54 205 793.96 210 797.5C215 801.04 220 805.21 225 807.5C230 809.79 235 810.92 240 811.25C245 811.58 250.83 810.96 255 809.5C259.17 808.04 261.88 805.75 265 802.5C268.12 799.25 270.83 795.42 273.75 790C276.67 784.58 279.79 776.25 282.5 770C285.21 763.75 287.71 756.88 290 752.5C292.29 748.12 294.71 745.62 296.25 743.75C297.79 741.88 297.54 740.83 299.25 741.25C300.96 741.67 304.21 743.12 306.5 746.25C308.79 749.38 310.67 755.21 313 760C315.33 764.79 318 770.92 320.5 775C323 779.08 325.25 782.29 328 784.5C330.75 786.71 330 787.54 337 788.25C344 788.96 352.25 788.67 370 788.75C387.75 788.83 431.25 788.75 443.5 788.75" stroke="#4145ab"/>
<path d="M92.5 788.75C95.42 788.96 104.58 790.42 110 790C115.42 789.58 120 787.21 125 786.25C130 785.29 135 784.04 140 784.25C145 784.46 150 786.96 155 787.5C160 788.04 165 787.92 170 787.5C175 787.08 180.42 785.21 185 785C189.58 784.79 192.92 785.28 197.5 786.25C202.08 787.22 207.5 789.04 212.5 790.8C217.5 792.56 222.5 795.02 227.5 796.8C232.5 798.58 237.5 800.25 242.5 801.5C247.5 802.75 253.33 804.34 257.5 804.3C261.67 804.26 264.38 803.22 267.5 801.25C270.62 799.28 273.33 796.04 276.25 792.5C279.17 788.96 282.08 783.75 285 780C287.92 776.25 291.04 772.17 293.75 770C296.46 767.83 298.75 767.08 301.25 767C303.75 766.92 306.46 768.42 308.75 769.5C311.04 770.58 312.96 772.08 315 773.5C317.04 774.92 318.55 776.32 321 778C323.45 779.68 326.83 782.18 329.7 783.6C332.57 785.02 334.82 785.72 338.2 786.5C341.58 787.28 344.7 787.92 350 788.3C355.3 788.67 354.42 788.67 370 788.75C385.58 788.83 431.25 788.75 443.5 788.75" stroke="#507dc0"/>
<path d="M92.5 788.75C95.42 788.46 102.92 787.75 110 787C117.08 786.25 126.67 784.79 135 784.25C143.33 783.71 151.67 784.12 160 783.75C168.33 783.38 178.33 782.29 185 782C191.67 781.71 195 781.58 200 782C205 782.42 210 783.25 215 784.5C220 785.75 225 787.96 230 789.5C235 791.04 240 792.5 245 793.75C250 795 255.83 796.38 260 797C264.17 797.62 266.67 797.83 270 797.5C273.33 797.17 276.67 796.04 280 795C283.33 793.96 286.67 792.17 290 791.25C293.33 790.33 295.83 789.71 300 789.5C304.17 789.29 309.17 790 315 790C320.83 790 327.5 789.67 335 789.5C342.5 789.33 349.17 789.12 360 789C370.83 788.88 386.08 788.79 400 788.75C413.92 788.71 436.25 788.75 443.5 788.75" stroke="#6ebce1"/>
</g>
<line x1="92.5" y1="557.5" x2="92.5" y2="895" stroke="#222222" stroke-width="1.5"/>
<line x1="88.5" y1="595.5" x2="92.5" y2="595.5" stroke="#222222" stroke-width="1.5"/>
<text x="85.7" y="602.7" font-size="27.8" text-anchor="end">0.1</text>
<line x1="88.5" y1="692" x2="92.5" y2="692" stroke="#222222" stroke-width="1.5"/>
<text x="85.7" y="699.2" font-size="27.8" text-anchor="end">0.05</text>
<line x1="88.5" y1="788.75" x2="92.5" y2="788.75" stroke="#222222" stroke-width="1.5"/>
<text x="85.7" y="795.95" font-size="27.8" text-anchor="end">0</text>
<line x1="88.5" y1="885.2" x2="92.5" y2="885.2" stroke="#222222" stroke-width="1.5"/>
<text x="85.7" y="892.4" font-size="27.8" text-anchor="end">-0.05</text>
<line x1="443.7" y1="557.5" x2="443.7" y2="895" stroke="#222222" stroke-width="1.5"/>
<line x1="443.7" y1="588.3" x2="447.7" y2="588.3" stroke="#222222" stroke-width="1.5"/>
<text x="453.7" y="598.2" font-size="27.8" text-anchor="start">200</text>
<line x1="443.7" y1="688.2" x2="447.7" y2="688.2" stroke="#222222" stroke-width="1.5"/>
<text x="453.7" y="696.7" font-size="27.8" text-anchor="start">100</text>
<line x1="443.7" y1="788.75" x2="447.7" y2="788.75" stroke="#222222" stroke-width="1.5"/>
<text x="453.7" y="795.65" font-size="27.8" text-anchor="start">0</text>
<line x1="443.7" y1="888.8" x2="447.7" y2="888.8" stroke="#222222" stroke-width="1.5"/>
<text x="453.7" y="894.5" font-size="27.8" text-anchor="start">-100</text>
<line x1="92.5" y1="902.6" x2="443.7" y2="902.6" stroke="#222222" stroke-width="1.5"/>
<line x1="92.5" y1="902.6" x2="92.5" y2="906.6" stroke="#222222" stroke-width="1.5"/>
<text x="92.8" y="934.4" font-size="27.8" text-anchor="middle">0</text>
<line x1="268.1" y1="902.6" x2="268.1" y2="906.6" stroke="#222222" stroke-width="1.5"/>
<text x="266.4" y="934.4" font-size="27.8" text-anchor="middle">50</text>
<line x1="443.7" y1="902.6" x2="443.7" y2="906.6" stroke="#222222" stroke-width="1.5"/>
<text x="440.4" y="934.4" font-size="27.8" text-anchor="middle">100</text>
<text x="276.7" y="976.2" font-size="35.1" text-anchor="middle">Gait Cycle (%)</text>
<text x="26.7" y="727" font-size="35.1" text-anchor="middle" transform="rotate(-90 26.7 727)">COM Power</text>
<text x="531" y="726.3" font-size="35.1" text-anchor="middle" transform="rotate(-90 531 726.3)">Power (W)</text>
<text x="598.5" y="543.7" font-size="34.9" text-anchor="start" font-weight="bold">E. Summed Joint Power</text>
<polygon fill="#b0b0b0" points="852.35,813.75 867.15,813.75 867.15,589.5 882,589.5 859.75,552 837.5,589.5 852.35,589.5"/>
<polygon fill="#b0b0b0" points="791.1,755 805.9,755 805.9,841.75 820.75,841.75 798.5,880 776.25,841.75 791.1,841.75"/>
<polygon fill="#b0b0b0" points="966.6,755 981.4,755 981.4,854.5 996.25,854.5 974,892.5 951.75,854.5 966.6,854.5"/>
<line x1="654.25" y1="788.75" x2="1005.2" y2="788.75" stroke="#333" stroke-width="1.8"/>
<clipPath id="cpE"><rect x="652.05" y="546.25" width="355.35" height="358.75"/></clipPath>
<g clip-path="url(#cpE)" fill="none" stroke-width="4.8" stroke-linejoin="round" stroke-linecap="butt">
<path d="M654.25 802.5C655 798.75 657.17 785.62 658.75 780C660.33 774.38 662.29 770.92 663.75 768.75C665.21 766.58 666.04 766.38 667.5 767C668.96 767.62 670.83 768.25 672.5 772.5C674.17 776.75 675.83 785.42 677.5 792.5C679.17 799.58 680.83 809.17 682.5 815C684.17 820.83 685.83 824.79 687.5 827.5C689.17 830.21 690.62 831.67 692.5 831.25C694.38 830.83 696.46 828.96 698.75 825C701.04 821.04 703.54 813.33 706.25 807.5C708.96 801.67 711.88 794.79 715 790C718.12 785.21 721.67 781.58 725 778.75C728.33 775.92 731.88 774.17 735 773C738.12 771.83 740.83 771.42 743.75 771.75C746.67 772.08 749.38 772.79 752.5 775C755.62 777.21 759.17 780.42 762.5 785C765.83 789.58 769.17 797.08 772.5 802.5C775.83 807.92 779.17 813.25 782.5 817.5C785.83 821.75 789.38 825.71 792.5 828C795.62 830.29 798.33 831.12 801.25 831.25C804.17 831.38 807.08 830.62 810 828.75C812.92 826.88 816.04 824.38 818.75 820C821.46 815.62 823.96 810 826.25 802.5C828.54 795 830.62 784.58 832.5 775C834.38 765.42 836.25 754.17 837.5 745C838.75 735.83 838.75 732.5 840 720C841.25 707.5 843.33 685.83 845 670C846.67 654.17 848.33 638.33 850 625C851.67 611.67 853.54 597.71 855 590C856.46 582.29 857.5 579.17 858.75 578.75C860 578.33 861.25 581.88 862.5 587.5C863.75 593.12 865 602.5 866.25 612.5C867.5 622.5 868.75 635.42 870 647.5C871.25 659.58 872.5 672.92 873.75 685C875 697.08 876.38 710 877.5 720C878.62 730 879.42 737.17 880.5 745C881.58 752.83 882.87 761.67 884 767C885.13 772.33 886.3 775.07 887.3 777C888.3 778.93 889.05 779.02 890 778.6C890.95 778.18 891.83 776.68 893 774.5C894.17 772.32 895.42 768.12 897 765.5C898.58 762.88 900.75 760.08 902.5 758.75C904.25 757.42 905.42 757.29 907.5 757.5C909.58 757.71 912.08 758.33 915 760C917.92 761.67 921.67 764.58 925 767.5C928.33 770.42 931.67 773.75 935 777.5C938.33 781.25 941.67 785.42 945 790C948.33 794.58 951.75 799.17 955 805C958.25 810.83 961.57 818.33 964.5 825C967.43 831.67 970.13 839.53 972.6 845C975.07 850.47 977.13 855.22 979.3 857.8C981.47 860.38 983.57 861.3 985.6 860.5C987.63 859.7 989.57 856.83 991.5 853C993.43 849.17 995.5 843 997.2 837.5C998.9 832 1000.32 825.83 1001.7 820C1003.08 814.17 1004.87 805.42 1005.5 802.5" stroke="#333333"/>
<path d="M654.25 788.75C655.83 787.71 660.71 782.92 663.75 782.5C666.79 782.08 669.58 784.17 672.5 786.25C675.42 788.33 678.33 793.12 681.25 795C684.17 796.88 686.88 797.5 690 797.5C693.12 797.5 696.67 794.58 700 795C703.33 795.42 706.67 798.12 710 800C713.33 801.88 717.5 805.08 720 806.25C722.5 807.42 722.92 807.62 725 807C727.08 806.38 729.58 805.12 732.5 802.5C735.42 799.88 739.17 794.17 742.5 791.25C745.83 788.33 749.58 786.04 752.5 785C755.42 783.96 757.08 783.75 760 785C762.92 786.25 766.25 788.96 770 792.5C773.75 796.04 778.33 802.29 782.5 806.25C786.67 810.21 791.25 814.17 795 816.25C798.75 818.33 801.67 818.96 805 818.75C808.33 818.54 811.67 817.29 815 815C818.33 812.71 821.88 809.58 825 805C828.12 800.42 830.83 795 833.75 787.5C836.67 780 839.79 769.17 842.5 760C845.21 750.83 847.5 741.67 850 732.5C852.5 723.33 855.42 711.58 857.5 705C859.58 698.42 861.37 695.4 862.5 693C863.63 690.6 863.67 691.17 864.3 690.6C864.92 690.03 865.6 689.6 866.25 689.6C866.9 689.6 867.58 689.87 868.2 690.6C868.83 691.33 868.87 690.35 870 694C871.13 697.65 873.12 704.42 875 712.5C876.88 720.58 879.17 733.75 881.25 742.5C883.33 751.25 885.21 759.38 887.5 765C889.79 770.62 892.08 774.5 895 776.25C897.92 778 901.67 775.79 905 775.5C908.33 775.21 911.67 773.96 915 774.5C918.33 775.04 921.25 776.17 925 778.75C928.75 781.33 933.33 786.25 937.5 790C941.67 793.75 945.83 797.5 950 801.25C954.17 805 958.75 809.58 962.5 812.5C966.25 815.42 969.79 817.5 972.5 818.75C975.21 820 976.25 820.62 978.75 820C981.25 819.38 984.38 818.12 987.5 815C990.62 811.88 994.5 805.62 997.5 801.25C1000.5 796.88 1004.17 790.83 1005.5 788.75" stroke="#2e217c"/>
<path d="M654.25 788.75C655.83 787.92 660.5 783.96 663.75 783.75C667 783.54 670.21 785.42 673.75 787.5C677.29 789.58 681.88 794.67 685 796.25C688.12 797.83 689.58 797 692.5 797C695.42 797 698.75 795.12 702.5 796.25C706.25 797.38 711.46 801.88 715 803.75C718.54 805.62 720.83 807.5 723.75 807.5C726.67 807.5 729.38 806.25 732.5 803.75C735.62 801.25 738.75 795.62 742.5 792.5C746.25 789.38 751.25 785.83 755 785C758.75 784.17 761.25 785.42 765 787.5C768.75 789.58 773.33 794.67 777.5 797.5C781.67 800.33 785.83 802.87 790 804.5C794.17 806.13 798.33 807.13 802.5 807.3C806.67 807.47 811.25 806.72 815 805.5C818.75 804.28 821.67 803.21 825 800C828.33 796.79 831.67 792.5 835 786.25C838.33 780 841.88 770.21 845 762.5C848.12 754.79 851.04 746.42 853.75 740C856.46 733.58 859.44 727.33 861.25 724C863.06 720.67 863.64 720.85 864.6 720C865.56 719.15 866.2 718.9 867 718.9C867.8 718.9 868.48 718.93 869.4 720C870.32 721.07 870.94 721.13 872.5 725.3C874.06 729.47 876.67 738.38 878.75 745C880.83 751.62 882.71 759.79 885 765C887.29 770.21 889.58 774.17 892.5 776.25C895.42 778.33 898.75 777.62 902.5 777.5C906.25 777.38 911.04 775.08 915 775.5C918.96 775.92 922.08 777.38 926.25 780C930.42 782.62 935.21 787.5 940 791.25C944.79 795 950.42 799.38 955 802.5C959.58 805.62 963.75 808.33 967.5 810C971.25 811.67 974.17 812.71 977.5 812.5C980.83 812.29 984.17 811.04 987.5 808.75C990.83 806.46 994.5 802.08 997.5 798.75C1000.5 795.42 1004.17 790.42 1005.5 788.75" stroke="#4145ab"/>
<path d="M654.25 788.75C656.04 788.33 661.12 786.04 665 786.25C668.88 786.46 672.92 788.75 677.5 790C682.08 791.25 687.5 792.71 692.5 793.75C697.5 794.79 702.08 795 707.5 796.25C712.92 797.5 720.42 800.83 725 801.25C729.58 801.67 731.25 800.42 735 798.75C738.75 797.08 743.33 793.33 747.5 791.25C751.67 789.17 756.25 787.08 760 786.25C763.75 785.42 766.25 785.21 770 786.25C773.75 787.29 778.33 790.41 782.5 792.5C786.67 794.59 790.83 797.22 795 798.8C799.17 800.38 803.33 801.63 807.5 802C811.67 802.37 816.25 801.92 820 801C823.75 800.08 826.67 798.96 830 796.5C833.33 794.04 836.67 790.25 840 786.25C843.33 782.25 846.67 776.67 850 772.5C853.33 768.33 856.67 763.83 860 761.25C863.33 758.67 867.08 757.21 870 757C872.92 756.79 874.79 758.04 877.5 760C880.21 761.96 883.33 766.25 886.25 768.75C889.17 771.25 891.46 773.33 895 775C898.54 776.67 903.33 777.83 907.5 778.75C911.67 779.67 915.83 779.25 920 780.5C924.17 781.75 927.92 783.83 932.5 786.25C937.08 788.67 942.5 792.5 947.5 795C952.5 797.5 957.5 799.67 962.5 801.25C967.5 802.83 973.33 804.5 977.5 804.5C981.67 804.5 984.17 802.83 987.5 801.25C990.83 799.67 994.5 797.08 997.5 795C1000.5 792.92 1004.17 789.79 1005.5 788.75" stroke="#507dc0"/>
<path d="M654.25 789.5C656.88 789.58 663.21 789.71 670 790C676.79 790.29 686.67 790.62 695 791.25C703.33 791.88 713.75 793.33 720 793.75C726.25 794.17 727.5 794.38 732.5 793.75C737.5 793.12 744.17 791.38 750 790C755.83 788.62 762.08 786.42 767.5 785.5C772.92 784.58 777.92 784.38 782.5 784.5C787.08 784.62 790.42 785.42 795 786.25C799.58 787.08 805 788.67 810 789.5C815 790.33 820 791.25 825 791.25C830 791.25 834.58 790.21 840 789.5C845.42 788.79 850.42 787.54 857.5 787C864.58 786.46 874.17 786.58 882.5 786.25C890.83 785.92 900 785.21 907.5 785C915 784.79 921.25 784.38 927.5 785C933.75 785.62 939.17 787.29 945 788.75C950.83 790.21 957.08 792.62 962.5 793.75C967.92 794.88 972.92 795.5 977.5 795.5C982.08 795.5 986.25 794.58 990 793.75C993.75 792.92 997.42 791.33 1000 790.5C1002.58 789.67 1004.58 789.04 1005.5 788.75" stroke="#6ebce1"/>
</g>
<line x1="654.25" y1="556.25" x2="654.25" y2="895" stroke="#222222" stroke-width="1.5"/>
<line x1="650.25" y1="595.5" x2="654.25" y2="595.5" stroke="#222222" stroke-width="1.5"/>
<text x="645.95" y="602.7" font-size="27.8" text-anchor="end">0.1</text>
<line x1="650.25" y1="692" x2="654.25" y2="692" stroke="#222222" stroke-width="1.5"/>
<text x="645.95" y="699.2" font-size="27.8" text-anchor="end">0.05</text>
<line x1="650.25" y1="788.75" x2="654.25" y2="788.75" stroke="#222222" stroke-width="1.5"/>
<text x="645.95" y="795.95" font-size="27.8" text-anchor="end">0</text>
<line x1="650.25" y1="885.2" x2="654.25" y2="885.2" stroke="#222222" stroke-width="1.5"/>
<text x="645.95" y="892.4" font-size="27.8" text-anchor="end">-0.05</text>
<line x1="1005.2" y1="556.25" x2="1005.2" y2="895" stroke="#222222" stroke-width="1.5"/>
<line x1="1005.2" y1="588.3" x2="1009.2" y2="588.3" stroke="#222222" stroke-width="1.5"/>
<text x="1014.5" y="598.2" font-size="27.8" text-anchor="start">200</text>
<line x1="1005.2" y1="688.2" x2="1009.2" y2="688.2" stroke="#222222" stroke-width="1.5"/>
<text x="1014.5" y="696.7" font-size="27.8" text-anchor="start">100</text>
<line x1="1005.2" y1="788.75" x2="1009.2" y2="788.75" stroke="#222222" stroke-width="1.5"/>
<text x="1014.5" y="795.65" font-size="27.8" text-anchor="start">0</text>
<line x1="1005.2" y1="888.8" x2="1009.2" y2="888.8" stroke="#222222" stroke-width="1.5"/>
<text x="1014.5" y="894.5" font-size="27.8" text-anchor="start">-100</text>
<line x1="654.25" y1="902.6" x2="1005.2" y2="902.6" stroke="#222222" stroke-width="1.5"/>
<line x1="654.25" y1="902.6" x2="654.25" y2="906.6" stroke="#222222" stroke-width="1.5"/>
<text x="655.25" y="934.4" font-size="27.8" text-anchor="middle">0</text>
<line x1="829.73" y1="902.6" x2="829.73" y2="906.6" stroke="#222222" stroke-width="1.5"/>
<text x="831.02" y="934.4" font-size="27.8" text-anchor="middle">50</text>
<line x1="1005.2" y1="902.6" x2="1005.2" y2="906.6" stroke="#222222" stroke-width="1.5"/>
<text x="1005.4" y="934.4" font-size="27.8" text-anchor="middle">100</text>
<text x="838.33" y="976.2" font-size="35.1" text-anchor="middle">Gait Cycle (%)</text>
<text x="585.3" y="725.3" font-size="35.1" text-anchor="middle" transform="rotate(-90 585.3 725.3)">Summed Joint Power</text>
<text x="1092" y="726.3" font-size="35.1" text-anchor="middle" transform="rotate(-90 1092 726.3)">Power (W)</text>
<rect x="1221.75" y="612.5" width="236.25" height="202" rx="9" ry="9" fill="#fff" stroke="#222" stroke-width="1.1"/>
<text x="1339.7" y="645.2" font-size="34.8" text-anchor="middle">Speed (m/s)</text>
<line x1="1230.75" y1="671.5" x2="1305.5" y2="671.5" stroke="#6ebce1" stroke-width="5.0"/>
<text x="1312.6" y="681.1" font-size="35.5" text-anchor="start">0.1</text>
<line x1="1230.75" y1="703.25" x2="1305.5" y2="703.25" stroke="#507dc0" stroke-width="5.0"/>
<text x="1312.6" y="712.85" font-size="35.5" text-anchor="start">0.3</text>
<line x1="1230.75" y1="734.5" x2="1305.5" y2="734.5" stroke="#4145ab" stroke-width="5.0"/>
<text x="1312.6" y="744.1" font-size="35.5" text-anchor="start">0.5</text>
<line x1="1230.75" y1="766.25" x2="1305.5" y2="766.25" stroke="#2e217c" stroke-width="5.0"/>
<text x="1312.6" y="775.85" font-size="35.5" text-anchor="start">0.6</text>
<line x1="1230.75" y1="797.5" x2="1305.5" y2="797.5" stroke="#333333" stroke-width="5.0"/>
<text x="1312.6" y="807.1" font-size="35.5" text-anchor="start">SS</text>
<polygon fill="#b0b0b0" points="1385.7,671.25 1400.5,671.25 1400.5,758 1415.35,758 1393.1,796.25 1370.85,758 1385.7,758"/>
<text x="1446.8" y="732" font-size="30" text-anchor="middle" transform="rotate(-90 1446.8 732)">Faster</text>
</svg>
</body></html>
